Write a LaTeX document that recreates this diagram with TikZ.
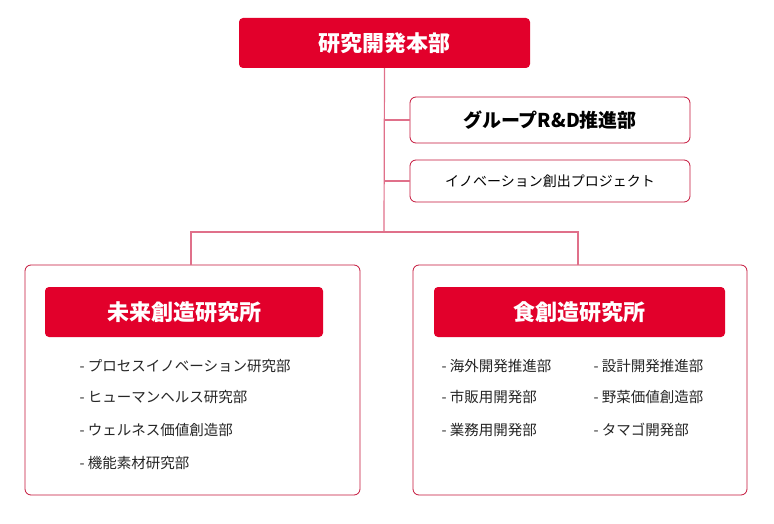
\documentclass[tikz,border=0pt]{standalone}
\usepackage{fontspec}
\setmainfont{Noto Sans CJK JP}
\definecolor{red1}{HTML}{E2002B}
\definecolor{line1}{HTML}{E0708A}
\definecolor{bord}{HTML}{C4153A}
\begin{document}
\begin{tikzpicture}[x=1pt,y=-1pt,
 hdr/.style={fill=red1,rounded corners=4pt,text=white,font=\bfseries},
 box/.style={draw=bord,line width=0.8pt,rounded corners=6pt,fill=white},
 conn/.style={draw=line1,line width=1.2pt},
 item/.style={anchor=west,font=\fontsize{14.5}{16}\selectfont,text=black!85}]
\useasboundingbox (0,0) rectangle (774,524);
\node[hdr,minimum width=291,minimum height=50,font=\bfseries\fontsize{22}{24}\selectfont] (top) at (384.5,43) {研究開発本部};
\node[box,minimum width=280,minimum height=46,font=\fontsize{19}{21}\selectfont\bfseries] (g) at (550,120) {グループR\&D推進部};
\node[box,minimum width=280,minimum height=42,font=\fontsize{14}{16}\selectfont] (i) at (550,181) {イノベーション創出プロジェクト};
\node[box,minimum width=335,minimum height=230] (L) at (192.5,380) {};
\node[box,minimum width=334,minimum height=230] (R) at (580,380) {};
\node[hdr,minimum width=278,minimum height=50,font=\bfseries\fontsize{22}{24}\selectfont] (lh) at (184,312) {未来創造研究所};
\node[hdr,minimum width=291,minimum height=50,font=\bfseries\fontsize{22}{24}\selectfont] (rh) at (579.5,312) {食創造研究所};
\coordinate (j) at (384,232);
\coordinate (a) at (384,120);
\coordinate (b) at (384,181);
\draw[conn] (top.south) -- (j);
\draw[conn] (a) -- (g.west);
\draw[conn] (b) -- (i.west);
\draw[conn] (191,265) |- (j) -| (578,265);
\node[item] (l1) at (76,366) {- プロセスイノベーション研究部};
\node[item] (l2) at (76,397) {- ヒューマンヘルス研究部};
\node[item] (l3) at (76,430) {- ウェルネス価値創造部};
\node[item] (l4) at (76,463) {- 機能素材研究部};
\node[item] (r1) at (438,366) {- 海外開発推進部};
\node[item] (r2) at (438,397) {- 市販用開発部};
\node[item] (r3) at (438,430) {- 業務用開発部};
\node[item] (r4) at (590,366) {- 設計開発推進部};
\node[item] (r5) at (590,397) {- 野菜価値創造部};
\node[item] (r6) at (590,430) {- タマゴ開発部};
\end{tikzpicture}
\end{document}
